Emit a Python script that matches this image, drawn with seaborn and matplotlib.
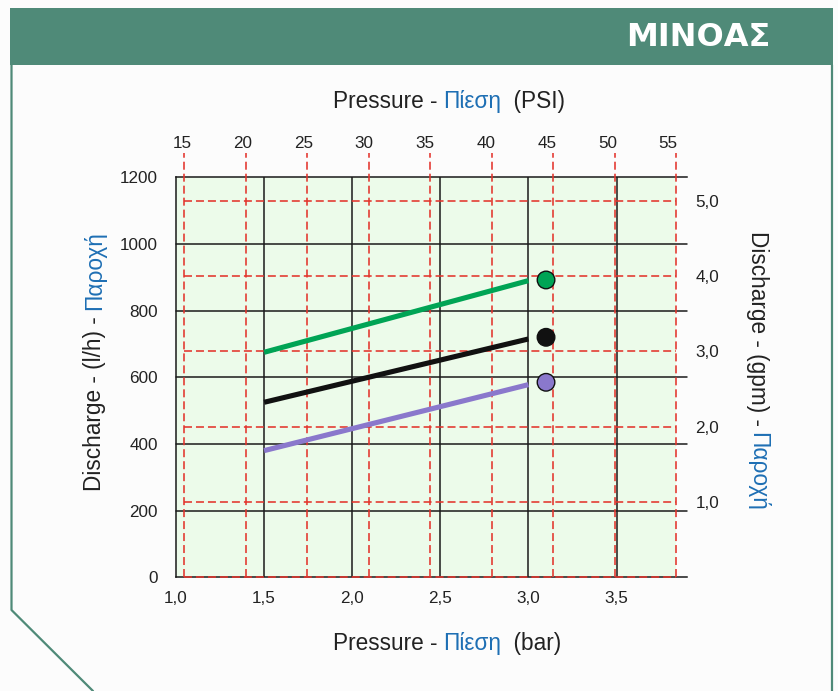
import numpy as np
import pandas as pd
import matplotlib
matplotlib.use("Agg")
import matplotlib.pyplot as plt
import seaborn as sns
from matplotlib.patches import Rectangle
from matplotlib.lines import Line2D

# ---- data -------------------------------------------------------------
bar_ticks = [1.0, 1.5, 2.0, 2.5, 3.0, 3.5]
bar_labels = ["1,0", "1,5", "2,0", "2,5", "3,0", "3,5"]
lh_ticks = [0, 200, 400, 600, 800, 1000, 1200]
psi_ticks = [15, 20, 25, 30, 35, 40, 45, 50, 55]
gpm_ticks = [1.0, 2.0, 3.0, 4.0, 5.0]
gpm_labels = ["1,0", "2,0", "3,0", "4,0", "5,0"]

series = ["green", "black", "purple"]
curve_pressure = [1.5, 3.0]            # bar
green_lh = [675, 890]
black_lh = [525, 715]
purple_lh = [380, 578]

dot_pressure = 3.1                     # bar
dot_lh = [892, 720, 585]

series_colors = ["#00a455", "#111111", "#8a78cc"]

# ---- unit conversions ------------------------------------------------
PSI_PER_BAR = 14.5          # scale of the PSI tick labels
PSI_GRID_PER_BAR = 14.33    # scale of the dashed PSI guide lines
LH_PER_GPM = 226.0

# ---- style -----------------------------------------------------------
sns.set_style("white")
FONT = "Liberation Sans"
plt.rcParams["font.family"] = [FONT, "DejaVu Sans"]
DARK = "#222222"
BLUE = "#1e6fb4"
TEAL = "#4f8a78"
RED = "#e3342c"
GRID_K = "#1a1a1a"
TICK_SIZE = 12.3

W, H = 838, 691
fig = plt.figure(figsize=(W / 100, H / 100), dpi=100, facecolor="#fcfcfc")


def fx(x):
    return x / W


def fy(y):
    return 1 - y / H


# ---- card frame & header ----------------------------------------------
fig.patches.append(Rectangle((fx(10), fy(65)), 823 / W, 57.5 / H,
                             transform=fig.transFigure, facecolor=TEAL,
                             edgecolor="none", zorder=0))
fig.lines.append(Line2D([fx(11.5), fx(11.5), fx(93)], [fy(65), fy(610), fy(691)],
                        transform=fig.transFigure, color=TEAL, lw=1.6))
fig.lines.append(Line2D([fx(832), fx(832)], [fy(65), fy(691)],
                        transform=fig.transFigure, color=TEAL, lw=1.6))
fig.text(fx(770), fy(38), "ΜΙΝΟΑΣ", ha="right", va="center", color="white",
         fontsize=23, fontweight="bold", family="DejaVu Sans")

# ---- main axes ----------------------------------------------------------
ax = fig.add_axes([fx(176), fy(577.3), 511 / W, 400 / H])
ax.set_facecolor("none")
ax.set_xlim(1.0, 3.9)
ax.set_ylim(0, 1200)

x_lo = psi_ticks[0] / PSI_GRID_PER_BAR
x_hi = psi_ticks[-1] / PSI_GRID_PER_BAR
ax.add_patch(Rectangle((1.0, 0), x_hi - 1.0, 1200, facecolor="#ecfbea",
                       edgecolor="none", zorder=0))

# black bar / l/h grid
for b in bar_ticks[1:]:
    ax.axvline(b, color=GRID_K, lw=1.1, zorder=2)
for q in lh_ticks[1:-1]:
    ax.axhline(q, color=GRID_K, lw=1.1, zorder=2, clip_on=False)

# red dashed PSI / gpm grid
dash = (0, (5.0, 2.5))
for p in psi_ticks:
    xb = p / PSI_GRID_PER_BAR
    ax.plot([xb, xb], [0, 1273], color=RED, lw=1.15, ls=dash, zorder=3,
            clip_on=False)
for g in [0.0] + gpm_ticks:
    yq = g * LH_PER_GPM
    ax.plot([x_lo, x_hi], [yq, yq], color=RED, lw=1.15, ls=dash, zorder=3,
            clip_on=False)

for side in ["top", "bottom", "left"]:
    ax.spines[side].set_color(GRID_K)
    ax.spines[side].set_linewidth(1.1)
    ax.spines[side].set_zorder(2)
ax.spines["right"].set_visible(False)

# curves
curves = pd.DataFrame({
    "bar": curve_pressure * 3,
    "lh": green_lh + black_lh + purple_lh,
    "series": [s for s in series for _ in curve_pressure],
})
sns.lineplot(data=curves, x="bar", y="lh", hue="series", hue_order=series,
             palette=series_colors, linewidth=3.7, legend=False, ax=ax,
             zorder=5)
for ln in ax.get_lines()[-3:]:
    ln.set_solid_capstyle("butt")

dots = pd.DataFrame({"bar": [dot_pressure] * 3, "lh": dot_lh, "series": series})
sns.scatterplot(data=dots, x="bar", y="lh", hue="series", hue_order=series,
                palette=series_colors, s=160, edgecolor="#111111",
                linewidth=1.0, legend=False, ax=ax, zorder=6, clip_on=False)

ax.set_xlabel("")
ax.set_ylabel("")
ax.set_xticks(bar_ticks, bar_labels)
ax.set_yticks(lh_ticks)
ax.tick_params(axis="x", length=0, pad=10, labelsize=TICK_SIZE, labelcolor=DARK)
ax.tick_params(axis="y", length=0, pad=13, labelsize=TICK_SIZE, labelcolor=DARK)

top = ax.secondary_xaxis("top", functions=(lambda b: b * PSI_PER_BAR,
                                           lambda p: p / PSI_PER_BAR))
top.set_xticks(psi_ticks, [str(p) for p in psi_ticks])
top.tick_params(length=0, pad=19, labelsize=TICK_SIZE, labelcolor=DARK)
top.spines["top"].set_visible(False)

right = ax.secondary_yaxis("right", functions=(lambda q: q / LH_PER_GPM,
                                               lambda g: g * LH_PER_GPM))
right.set_yticks(gpm_ticks, gpm_labels)
right.tick_params(length=0, pad=6, labelsize=TICK_SIZE, labelcolor=DARK)
right.spines["right"].set_visible(False)


# ---- two-colour axis titles ---------------------------------------------
def rich_text(x_px, y_px, parts, size, rotation=0):
    """Draw coloured text pieces in sequence, centred along the reading
    direction at (x_px, y_px); the perpendicular coordinate is the baseline."""
    renderer = fig.canvas.get_renderer()

    def width(s):
        t = fig.text(0, 0, s + "|", fontsize=size, family=FONT)
        w = t.get_window_extent(renderer).width
        t.remove()
        return w

    bar_w = width("")
    starts, acc = [], ""
    for s, _ in parts:
        starts.append(width(acc) - bar_w)
        acc += s
    total = width(acc) - bar_w
    ang = np.deg2rad(rotation)
    dx, dy = np.cos(ang), np.sin(ang)
    cx, cy = x_px, H - y_px
    for (s, c), off in zip(parts, starts):
        d = off - total / 2
        fig.text((cx + dx * d) / W, (cy + dy * d) / H, s, color=c,
                 fontsize=size, family=FONT, rotation=rotation,
                 rotation_mode="anchor", ha="left", va="baseline")


LABEL_SIZE = 16.3
rich_text(449, 108, [("Pressure - ", DARK), ("Πίεση", BLUE), ("  (PSI)", DARK)],
          LABEL_SIZE)
rich_text(447, 650, [("Pressure - ", DARK), ("Πίεση", BLUE), ("  (bar)", DARK)],
          LABEL_SIZE)
rich_text(101, 361, [("Discharge - (l/h) - ", DARK), ("Παροχή", BLUE)],
          LABEL_SIZE, rotation=90)
rich_text(751, 371, [("Discharge - (gpm) - ", DARK), ("Παροχή", BLUE)],
          LABEL_SIZE, rotation=-90)

fig.savefig("out.png", dpi=100, facecolor=fig.get_facecolor())
